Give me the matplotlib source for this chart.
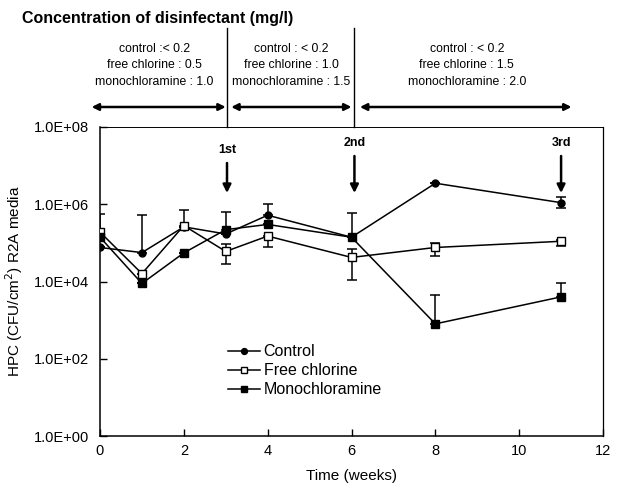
import numpy as np
import matplotlib
matplotlib.use("Agg")
import matplotlib.pyplot as plt
from matplotlib.ticker import FixedLocator, NullLocator

plt.rcParams['font.family'] = ['Liberation Sans', 'DejaVu Sans']

weeks = [0, 1, 2, 3, 4, 6, 8, 11]
control = [7.6e4, 5.6e4, 2.6e5, 1.7e5, 5.2e5, 1.4e5, 3.5e6, 1.1e6]
free_chlorine = [1.9e5, 1.6e4, 2.8e5, 6.0e4, 1.5e5, 4.2e4, 7.6e4, 1.1e5]
monochloramine = [1.4e5, 8.9e3, 5.5e4, 2.2e5, 3.0e5, 1.4e5, 8.0e2, 4.0e3]

# error bar ends (None = no bar on that side)
control_hi = [None, 5.2e5, None, None, 1.0e6, 5.8e5, None, 1.5e6]
control_lo = [None, None, None, None, None, None, None, 7.8e5]
free_hi = [None, None, 6.9e5, 9.1e4, None, 7.1e4, 1.0e5, 1.2e5]
free_lo = [None, None, None, 2.8e4, 7.6e4, 1.1e4, 4.5e4, 8.1e4]
mono_hi = [5.5e5, None, None, 6.2e5, None, None, 4.6e3, 9.3e3]
mono_lo = [None, None, None, None, None, None, None, None]

ytick_vals = [1e0, 1e2, 1e4, 1e6, 1e8]
ytick_labels = ["1.0E+00", "1.0E+02", "1.0E+04", "1.0E+06", "1.0E+08"]
xtick_vals = [0, 2, 4, 6, 8, 10, 12]

periods = [
    ("control :< 0.2", "free chlorine : 0.5", "monochloramine : 1.0"),
    ("control : < 0.2", "free chlorine : 1.0", "monochloramine : 1.5"),
    ("control : < 0.2", "free chlorine : 1.5", "monochloramine : 2.0"),
]
period_edges = [(-0.2, 3.0), (3.13, 6.0), (6.2, 11.25)]
period_centers = [1.30, 4.57, 8.75]
divider_x = [3.03, 6.07]
events = [("1st", 3.03), ("2nd", 6.07), ("3rd", 11.0)]

W, H = 617, 496
fig = plt.figure(figsize=(W / 100, H / 100), dpi=100)
ax = fig.add_axes([100 / W, 1 - 436 / H, 503 / W, 309 / H])


def errs(vals, hi, lo):
    up = [(h - v) if h is not None else 0 for v, h in zip(vals, hi)]
    dn = [(v - l) if l is not None else 0 for v, l in zip(vals, lo)]
    return [dn, up]


series = [
    (control, control_hi, control_lo, dict(marker='o', ms=5, mfc='black', mec='black'), "Control"),
    (free_chlorine, free_hi, free_lo, dict(marker='s', ms=5.5, mfc='white', mec='black', mew=1.0), "Free chlorine"),
    (monochloramine, mono_hi, mono_lo, dict(marker='s', ms=5.5, mfc='black', mec='black'), "Monochloramine"),
]

handles = []
for vals, hi, lo, mk, lab in series:
    ax.errorbar(weeks, vals, yerr=errs(vals, hi, lo), fmt='none', ecolor='black',
                elinewidth=1.1, capsize=3.5, capthick=1.1, zorder=2)
    h, = ax.plot(weeks, vals, color='black', lw=1.1, label=lab, zorder=3, **mk)
    handles.append(h)

ax.set_yscale('log')
ax.set_ylim(1e0, 1e8)
ax.set_xlim(0, 12)
ax.yaxis.set_major_locator(FixedLocator(ytick_vals))
ax.yaxis.set_minor_locator(NullLocator())
ax.set_yticklabels(ytick_labels)
ax.set_xticks(xtick_vals)
ax.tick_params(direction='in', length=5, width=1, labelsize=10.5, pad=6)
ax.tick_params(axis='y', pad=8)
for s in ax.spines.values():
    s.set_linewidth(1.1)
ax.spines['top'].set_linewidth(0.7)
ax.spines['right'].set_linewidth(0.9)

ax.set_xlabel("Time (weeks)", fontsize=11, labelpad=8)
ax.set_ylabel("HPC (CFU/cm$^2$) R2A media", fontsize=11, labelpad=6)

leg = ax.legend(handles=handles, loc='upper left', bbox_to_anchor=(222 / W, 1 - 338 / H),
                bbox_transform=fig.transFigure, frameon=False, fontsize=11.5,
                handlelength=2.0, handletextpad=0.2, labelspacing=0.25, borderaxespad=0,
                markerscale=0.85)

# top annotations
fig.text(22 / W, 1 - 18 / H, "Concentration of disinfectant (mg/l)", fontsize=11.5,
         fontweight='bold', ha='left', va='center')

tr = ax.get_xaxis_transform()
for xd in divider_x:
    ax.plot([xd, xd], [1.0, 1.32], transform=tr, color='black', lw=1.0, clip_on=False)

row_y = [1 + (127 - 49) / 309, 1 + (127 - 65) / 309, 1 + (127 - 82) / 309]
for lines, xc in zip(periods, period_centers):
    for txt, yy in zip(lines, row_y):
        ax.text(xc, yy, txt, transform=tr, ha='center', va='center', fontsize=8.8)

arrow_y = 1 + (127 - 107) / 309
for x0, x1 in period_edges:
    ax.annotate("", xy=(x1, arrow_y), xytext=(x0, arrow_y), xycoords=tr, textcoords=tr,
                arrowprops=dict(arrowstyle='<|-|>', color='black', lw=1.8,
                                mutation_scale=10, shrinkA=0, shrinkB=0),
                annotation_clip=False)

for lab, xd in events:
    ty = 1 - (150 - 127) / 309 if lab == "1st" else 1 - (143 - 127) / 309
    a0 = ty - 13 / 309
    a1 = 1 - (193 - 127) / 309
    ax.text(xd, ty, lab, transform=tr, ha='center', va='center', fontsize=9, fontweight='bold')
    ax.annotate("", xy=(xd, a1), xytext=(xd, a0), xycoords=tr, textcoords=tr,
                arrowprops=dict(arrowstyle='-|>', color='black', lw=1.8,
                                mutation_scale=12, shrinkA=0, shrinkB=0))

fig.savefig("out.png", dpi=100)
